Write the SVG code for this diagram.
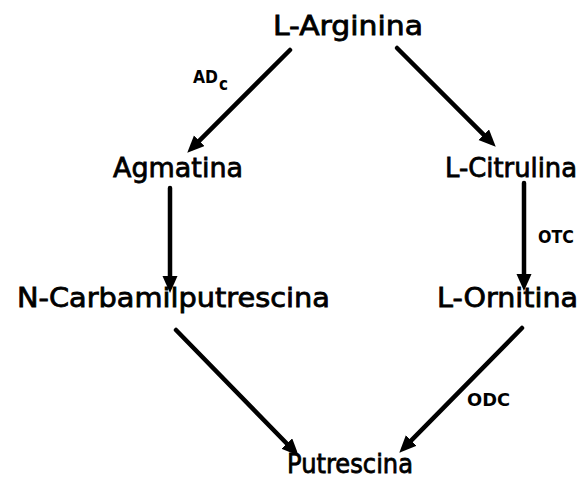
<svg xmlns="http://www.w3.org/2000/svg" width="585" height="493" viewBox="0 0 585 493">
<style>
.n{font-family:"DejaVu Sans","Liberation Sans",sans-serif;font-size:27px;fill:#000;stroke:#000;stroke-width:0.8}
.e{font-family:"DejaVu Sans","Liberation Sans",sans-serif;font-size:17px;font-weight:bold;fill:#000}
.c line{stroke:#000;stroke-width:4.5;stroke-linecap:round;marker-end:url(#ah)}
</style>
<defs>
<marker id="ah" markerUnits="userSpaceOnUse" markerWidth="18" markerHeight="16" refX="10" refY="7.5" orient="auto">
<path d="M0,0 L17,7.5 L0,15 z" fill="#000"/>
</marker>
</defs>
<rect width="585" height="493" fill="#fff"/>
<g class="c" id="connectors">
<line x1="290" y1="50" x2="192.2" y2="147.8"/>
<line x1="397" y1="48" x2="490.8" y2="141.8"/>
<line x1="170" y1="188" x2="170" y2="286"/>
<line x1="524" y1="183" x2="524" y2="284"/>
<line x1="176" y1="330" x2="293.8" y2="450.7"/>
<line x1="522" y1="328" x2="404.2" y2="447.7"/>
</g>
<g id="edge-labels">
<text class="e" x="193" y="83" textLength="25" lengthAdjust="spacingAndGlyphs">AD</text>
<text class="e" x="219" y="90" font-size="14" textLength="9" lengthAdjust="spacingAndGlyphs">c</text>
<text class="e" x="538" y="243" textLength="36" lengthAdjust="spacingAndGlyphs">OTC</text>
<text class="e" x="467" y="406" font-size="18" textLength="43" lengthAdjust="spacingAndGlyphs">ODC</text>
</g>
<g id="n-arginina"><text class="n" x="273" y="35" font-size="29" textLength="150" lengthAdjust="spacingAndGlyphs">L-Arginina</text></g>
<g id="n-agmatina"><text class="n" x="113" y="177" textLength="130" lengthAdjust="spacingAndGlyphs">Agmatina</text></g>
<g id="n-citrulina"><text class="n" x="445" y="177" textLength="132" lengthAdjust="spacingAndGlyphs">L-Citrulina</text></g>
<g id="n-carbamil"><text class="n" x="17" y="307" textLength="313" lengthAdjust="spacingAndGlyphs">N-Carbamilputrescina</text></g>
<g id="n-ornitina"><text class="n" x="437" y="307" textLength="141" lengthAdjust="spacingAndGlyphs">L-Ornitina</text></g>
<g id="n-putrescina"><text class="n" x="287" y="473" font-size="28" textLength="126" lengthAdjust="spacingAndGlyphs">Putrescina</text></g>
</svg>
